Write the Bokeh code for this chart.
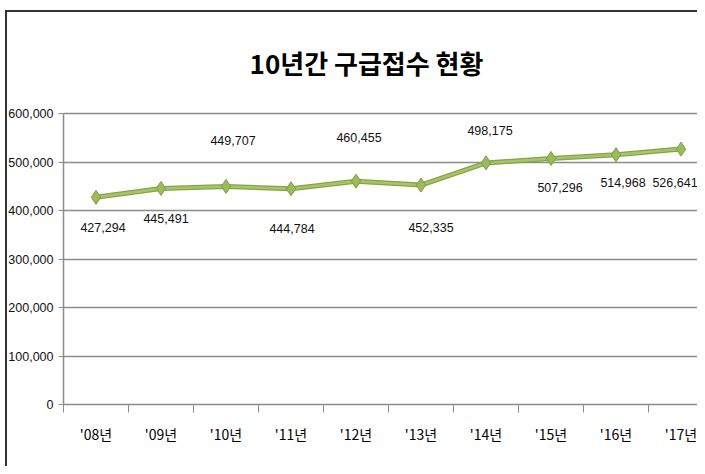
from bokeh.plotting import figure
from bokeh.models import FixedTicker, Range1d, NumeralTickFormatter, ColumnDataSource, Label
from bokeh.embed import file_html
from bokeh.resources import INLINE
from bokeh.core.properties import value

# ---- data ----
years = ["'08년", "'09년", "'10년", "'11년", "'12년", "'13년", "'14년", "'15년", "'16년", "'17년"]
counts = [427294, 445491, 449707, 444784, 460455, 452335, 498175, 507296, 514968, 526641]
y_ticks = [0, 100000, 200000, 300000, 400000, 500000, 600000]
title_text = "10년간 구급접수 현황"

# label placement (pixels, relative to each point)
label_dx = [7, 5, 7, 1, 3, 10, 4, 9, 7, -6]
label_dy = [30, 30, -46, 40, -44, 42, -32, 29, 28, 33]

GRID = "#8c8c8c"
NUMFONT = "Liberation Sans"
KRFONT = "Noto Sans CJK KR"

W, H = 697, 466
CAT_W = 65.0
FRAME_L, TOP_600K, FRAME_B = 63, 113, 404
x_end = (W - FRAME_L) / CAT_W
y_max = max(y_ticks)
# plot area reaches the top of the canvas so the title can sit inside it
y_end = y_max * FRAME_B / (FRAME_B - TOP_600K)

p = figure(width=W, height=H, output_backend="svg", toolbar_location=None,
           x_range=Range1d(0, x_end), y_range=Range1d(0, y_end),
           min_border_left=FRAME_L, min_border_right=0, min_border_top=0,
           min_border_bottom=H - FRAME_B)
p.outline_line_color = None
p.background_fill_color = None
p.border_fill_color = None
# outer frame of the chart (left and top edges)
p.styles = {"background": "linear-gradient(#333,#333) 5px 10px / 2px 100% no-repeat, "
                          "linear-gradient(#333,#333) 5px 10px / 100% 2px no-repeat, white"}

xs = [i + 0.5 for i in range(len(years))]
src = ColumnDataSource(dict(x=xs, y=counts, lab=[f"{v:,}" for v in counts],
                            dx=label_dx, dy=label_dy))

# axes
p.xaxis.ticker = FixedTicker(ticks=xs, minor_ticks=list(range(len(years) + 1)))
p.xaxis.major_label_overrides = {x: y for x, y in zip(xs, years)}
p.xaxis.major_tick_line_color = None
p.xaxis.major_tick_out = 0
p.xaxis.major_tick_in = 0
p.xaxis.minor_tick_line_color = GRID
p.xaxis.minor_tick_out = 8
p.xaxis.minor_tick_in = 0
p.xaxis.minor_tick_line_width = 1
p.xaxis.axis_line_color = GRID
p.xaxis.axis_line_width = 1.5
p.xaxis.major_label_standoff = 11
p.xaxis.major_label_text_font = KRFONT
p.xaxis.major_label_text_font_size = "14px"
p.xaxis.major_label_text_color = "black"

p.yaxis.ticker = FixedTicker(ticks=y_ticks)
p.yaxis.bounds = (0, y_max)
p.yaxis.formatter = NumeralTickFormatter(format="0,0")
p.yaxis.major_tick_out = 5
p.yaxis.major_tick_in = 0
p.yaxis.major_tick_line_color = GRID
p.yaxis.minor_tick_line_color = None
p.yaxis.axis_line_color = GRID
p.yaxis.axis_line_width = 1.5
p.yaxis.major_label_standoff = 5
p.yaxis.major_label_text_font = NUMFONT
p.yaxis.major_label_text_font_size = "12.5px"
p.yaxis.major_label_text_color = "#111111"

p.xgrid.visible = False
p.ygrid.ticker = FixedTicker(ticks=y_ticks)
p.ygrid.grid_line_color = GRID
p.ygrid.grid_line_width = 1.5

# series
p.line("x", "y", source=src, line_color="#86A447", line_width=5)
p.line("x", "y", source=src, line_color="#A6C46A", line_width=2.5)
p.scatter("x", "y", source=src, marker="diamond", size=14,
          fill_color="#9BBB59", line_color="#7F9C45", line_width=1)

p.text("x", "y", text="lab", source=src, x_offset="dx", y_offset="dy",
       text_align="center", text_baseline="middle",
       text_font=value(NUMFONT), text_font_size="12.5px", text_color="#111111")

# title (screen units: from the plot area's bottom-left corner)
p.add_layout(Label(x=303, y=342, x_units="screen", y_units="screen",
                   text=title_text, text_align="center", text_baseline="middle",
                   text_font=KRFONT, text_font_size="26px",
                   text_font_style="bold", text_color="black"))

open("out.html", "w").write(file_html(p, INLINE))
